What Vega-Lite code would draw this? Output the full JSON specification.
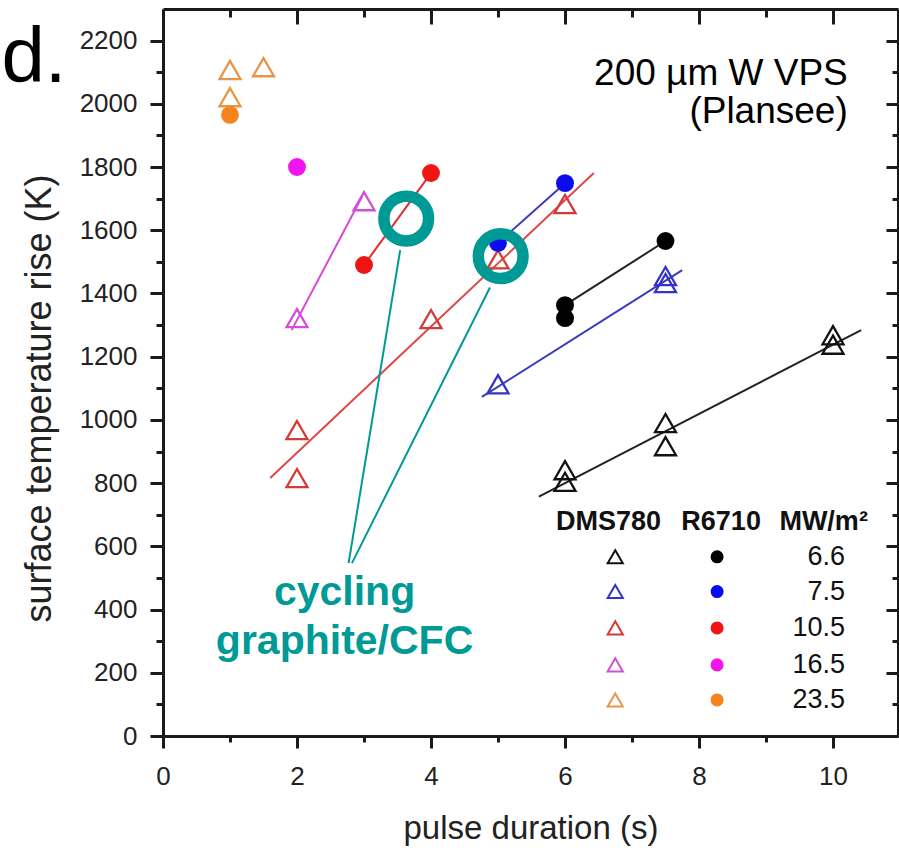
{
  "$schema": "https://vega.github.io/schema/vega-lite/v6.json",
  "width": 735,
  "height": 727,
  "autosize": {"type": "none"},
  "padding": {"left": 163, "top": 9, "right": 1, "bottom": 112},
  "background": "white",
  "config": {"view": {"stroke": null}, "font": "Liberation Sans"},
  "datasets": {
    "fit": [
      {"id": "m", "c": "LD16.5", "x": 1.92, "y": 1284},
      {"id": "m", "c": "LD16.5", "x": 2.97, "y": 1706},
      {"id": "rr", "c": "LR10.5", "x": 3, "y": 1490},
      {"id": "rr", "c": "LR10.5", "x": 4, "y": 1781},
      {"id": "rt", "c": "LD10.5", "x": 1.6, "y": 816},
      {"id": "rt", "c": "LD10.5", "x": 6.43, "y": 1781},
      {"id": "br", "c": "LR7.5", "x": 5, "y": 1560},
      {"id": "br", "c": "LR7.5", "x": 6, "y": 1749},
      {"id": "bt", "c": "LD7.5", "x": 4.76, "y": 1073},
      {"id": "bt", "c": "LD7.5", "x": 7.75, "y": 1474},
      {"id": "kr", "c": "LR6.6", "x": 6, "y": 1363},
      {"id": "kr", "c": "LR6.6", "x": 7.5, "y": 1566},
      {"id": "kt", "c": "LD6.6", "x": 5.61, "y": 757},
      {"id": "kt", "c": "LD6.6", "x": 10.42, "y": 1284}
    ],
    "tri": [
      {"c": "D23.5", "x": 1, "y": 2107},
      {"c": "D23.5", "x": 1, "y": 2021},
      {"c": "D23.5", "x": 1.5, "y": 2116},
      {"c": "D16.5", "x": 2, "y": 1322},
      {"c": "D16.5", "x": 3, "y": 1692},
      {"c": "D10.5", "x": 2, "y": 968},
      {"c": "D10.5", "x": 2, "y": 816},
      {"c": "D10.5", "x": 4, "y": 1319},
      {"c": "D10.5", "x": 5, "y": 1508},
      {"c": "D10.5", "x": 6, "y": 1683},
      {"c": "D7.5", "x": 5, "y": 1113},
      {"c": "D7.5", "x": 7.5, "y": 1455},
      {"c": "D7.5", "x": 7.5, "y": 1433},
      {"c": "D6.6", "x": 6, "y": 841},
      {"c": "D6.6", "x": 6, "y": 804},
      {"c": "D6.6", "x": 7.5, "y": 990},
      {"c": "D6.6", "x": 7.5, "y": 917},
      {"c": "D6.6", "x": 10, "y": 1268},
      {"c": "D6.6", "x": 10, "y": 1238}
    ],
    "dot": [
      {"c": "R23.5", "x": 1, "y": 1965},
      {"c": "R16.5", "x": 2, "y": 1800},
      {"c": "R10.5", "x": 3, "y": 1490},
      {"c": "R10.5", "x": 4, "y": 1781},
      {"c": "R7.5", "x": 5, "y": 1560},
      {"c": "R7.5", "x": 6, "y": 1749},
      {"c": "R6.6", "x": 6, "y": 1363},
      {"c": "R6.6", "x": 6, "y": 1322},
      {"c": "R6.6", "x": 7.5, "y": 1566}
    ],
    "ring": [
      {"x": 3.63, "y": 1637},
      {"x": 5.04, "y": 1518}
    ],
    "lead": [
      {"id": 1, "x": 2.77, "y": 547},
      {"id": 1, "x": 3.54, "y": 1537},
      {"id": 2, "x": 2.82, "y": 547},
      {"id": 2, "x": 4.88, "y": 1419}
    ],
    "teal": [
      {"t": "cycling", "x": 2.71, "y": 414},
      {"t": "graphite/CFC", "x": 2.71, "y": 259}
    ],
    "note": [
      {"t": "200 µm W VPS", "x": 10.22, "y": 2059},
      {"t": "(Plansee)", "x": 10.22, "y": 1939}
    ],
    "frag": [
      {"t": "nd.", "x": -1.44, "y": 2069}
    ],
    "leg": [
      {"v": "6.6", "d": "D6.6", "r": "R6.6", "y": 567},
      {"v": "7.5", "d": "D7.5", "r": "R7.5", "y": 457},
      {"v": "10.5", "d": "D10.5", "r": "R10.5", "y": 342},
      {"v": "16.5", "d": "D16.5", "r": "R16.5", "y": 225},
      {"v": "23.5", "d": "D23.5", "r": "R23.5", "y": 114}
    ],
    "head": [
      {"t": "DMS780", "x": 6.65, "y": 678},
      {"t": "R6710", "x": 8.33, "y": 678},
      {"t": "MW/m²", "x": 9.86, "y": 678}
    ]
  },
  "layer": [
    {
      "data": {"name": "fit"},
      "mark": {"type": "line", "strokeWidth": 2},
      "encoding": {
        "x": {
          "field": "x", "type": "quantitative",
          "scale": {"domain": [0, 10.97], "nice": false},
          "axis": {
            "orient": "bottom",
            "values": [0, 1, 2, 3, 4, 5, 6, 7, 8, 9, 10],
            "labelExpr": "datum.value % 2 === 0 ? datum.label : ''",
            "labelFlush": false,
            "tickSize": {"condition": {"test": "datum.value % 2 === 0", "value": 12}, "value": 6},
            "tickWidth": 3, "tickColor": "#1a1a1a",
            "domainWidth": 3, "domainColor": "#1a1a1a",
            "labelFontSize": 26, "labelColor": "#222222", "labelPadding": 15,
            "grid": false,
            "title": "pulse duration (s)", "titleFontSize": 33, "titleFontWeight": "normal",
            "titleColor": "#222222", "titleY": 102, "titleBaseline": "alphabetic"
          }
        },
        "y": {
          "field": "y", "type": "quantitative",
          "scale": {"domain": [0, 2300], "nice": false},
          "axis": {
            "orient": "left",
            "values": [0, 100, 200, 300, 400, 500, 600, 700, 800, 900, 1000, 1100, 1200, 1300, 1400, 1500, 1600, 1700, 1800, 1900, 2000, 2100, 2200],
            "labelExpr": "datum.value % 200 === 0 ? datum.label : ''",
            "labelFlush": false,
            "tickSize": {"condition": {"test": "datum.value % 200 === 0", "value": 13}, "value": 7},
            "tickWidth": 3, "tickColor": "#1a1a1a",
            "domainWidth": 3, "domainColor": "#1a1a1a",
            "labelFontSize": 26, "labelColor": "#222222", "labelPadding": 13,
            "format": "d",
            "grid": false,
            "title": "surface temperature rise (K)", "titleFontSize": 36, "titleFontWeight": "normal",
            "titleColor": "#222222", "titleAngle": 270, "titleX": -113, "titleY": 389,
            "titleBaseline": "alphabetic", "titleAlign": "center"
          }
        },
        "color": {
          "field": "c", "type": "nominal", "legend": null,
          "scale": {
            "domain": ["D6.6", "D7.5", "D10.5", "D16.5", "D23.5", "R6.6", "R7.5", "R10.5", "R16.5", "R23.5", "LD6.6", "LD7.5", "LD10.5", "LD16.5", "LR6.6", "LR7.5", "LR10.5"],
            "range": ["#111111", "#3434c4", "#d43a3a", "#d050d8", "#e8954a", "#000000", "#0b0bf0", "#f01414", "#f014f0", "#f5841a", "#222222", "#3a3abf", "#e04848", "#d64ad6", "#222222", "#3a3abf", "#e52a2a"]
          }
        },
        "detail": {"field": "id"}
      }
    },
    {
      "data": {"name": "tri"},
      "mark": {"type": "point", "shape": "triangle-up", "filled": false, "size": 440, "strokeWidth": 2.3, "opacity": 1},
      "encoding": {
        "x": {
          "field": "x", "type": "quantitative",
          "scale": {"domain": [0, 10.97], "nice": false},
          "axis": {
            "orient": "bottom",
            "offset": -727,
            "values": [0, 1, 2, 3, 4, 5, 6, 7, 8, 9, 10],
            "labels": false,
            "tickSize": {"condition": {"test": "datum.value % 2 === 0", "value": 15}, "value": 8},
            "tickWidth": 3, "tickColor": "#1a1a1a",
            "domainWidth": 3, "domainColor": "#1a1a1a",
            "grid": false, "title": null
          }
        },
        "y": {
          "field": "y", "type": "quantitative",
          "scale": {"domain": [0, 2300], "nice": false},
          "axis": {
            "orient": "left",
            "offset": -735,
            "values": [0, 100, 200, 300, 400, 500, 600, 700, 800, 900, 1000, 1100, 1200, 1300, 1400, 1500, 1600, 1700, 1800, 1900, 2000, 2100, 2200],
            "labels": false,
            "tickSize": {"condition": {"test": "datum.value % 200 === 0", "value": 12}, "value": 6},
            "tickWidth": 3, "tickColor": "#1a1a1a",
            "domainWidth": 3, "domainColor": "#1a1a1a",
            "grid": false, "title": null
          }
        },
        "color": {
          "field": "c", "type": "nominal", "legend": null,
          "scale": {
            "domain": ["D6.6", "D7.5", "D10.5", "D16.5", "D23.5", "R6.6", "R7.5", "R10.5", "R16.5", "R23.5", "LD6.6", "LD7.5", "LD10.5", "LD16.5", "LR6.6", "LR7.5", "LR10.5"],
            "range": ["#111111", "#3434c4", "#d43a3a", "#d050d8", "#e8954a", "#000000", "#0b0bf0", "#f01414", "#f014f0", "#f5841a", "#222222", "#3a3abf", "#e04848", "#d64ad6", "#222222", "#3a3abf", "#e52a2a"]
          }
        }
      }
    },
    {
      "data": {"name": "dot"},
      "mark": {"type": "circle", "size": 320, "opacity": 1},
      "encoding": {
        "x": {"field": "x", "type": "quantitative", "scale": {"domain": [0, 10.97], "nice": false}, "axis": null},
        "y": {"field": "y", "type": "quantitative", "scale": {"domain": [0, 2300], "nice": false}, "axis": null},
        "color": {
          "field": "c", "type": "nominal", "legend": null,
          "scale": {
            "domain": ["D6.6", "D7.5", "D10.5", "D16.5", "D23.5", "R6.6", "R7.5", "R10.5", "R16.5", "R23.5", "LD6.6", "LD7.5", "LD10.5", "LD16.5", "LR6.6", "LR7.5", "LR10.5"],
            "range": ["#111111", "#3434c4", "#d43a3a", "#d050d8", "#e8954a", "#000000", "#0b0bf0", "#f01414", "#f014f0", "#f5841a", "#222222", "#3a3abf", "#e04848", "#d64ad6", "#222222", "#3a3abf", "#e52a2a"]
          }
        }
      }
    },
    {
      "data": {"name": "ring"},
      "mark": {"type": "point", "shape": "circle", "filled": false, "size": 2000, "strokeWidth": 11.5, "color": "#009a96", "opacity": 1},
      "encoding": {
        "x": {"field": "x", "type": "quantitative", "scale": {"domain": [0, 10.97], "nice": false}, "axis": null},
        "y": {"field": "y", "type": "quantitative", "scale": {"domain": [0, 2300], "nice": false}, "axis": null}
      }
    },
    {
      "data": {"name": "lead"},
      "mark": {"type": "line", "strokeWidth": 2, "color": "#009a96"},
      "encoding": {
        "x": {"field": "x", "type": "quantitative", "scale": {"domain": [0, 10.97], "nice": false}, "axis": null},
        "y": {"field": "y", "type": "quantitative", "scale": {"domain": [0, 2300], "nice": false}, "axis": null},
        "detail": {"field": "id"}
      }
    },
    {
      "data": {"name": "teal"},
      "mark": {"type": "text", "align": "center", "baseline": "alphabetic", "fontSize": 41, "fontWeight": "bold", "color": "#009a96"},
      "encoding": {
        "x": {"field": "x", "type": "quantitative", "scale": {"domain": [0, 10.97], "nice": false}, "axis": null},
        "y": {"field": "y", "type": "quantitative", "scale": {"domain": [0, 2300], "nice": false}, "axis": null},
        "text": {"field": "t"}
      }
    },
    {
      "data": {"name": "note"},
      "mark": {"type": "text", "align": "right", "baseline": "alphabetic", "fontSize": 37, "color": "#000000"},
      "encoding": {
        "x": {"field": "x", "type": "quantitative", "scale": {"domain": [0, 10.97], "nice": false}, "axis": null},
        "y": {"field": "y", "type": "quantitative", "scale": {"domain": [0, 2300], "nice": false}, "axis": null},
        "text": {"field": "t"}
      }
    },
    {
      "data": {"name": "frag"},
      "mark": {"type": "text", "align": "right", "baseline": "alphabetic", "fontSize": 78, "color": "#000000"},
      "encoding": {
        "x": {"field": "x", "type": "quantitative", "scale": {"domain": [0, 10.97], "nice": false}, "axis": null},
        "y": {"field": "y", "type": "quantitative", "scale": {"domain": [0, 2300], "nice": false}, "axis": null},
        "text": {"field": "t"}
      }
    },
    {
      "data": {"name": "head"},
      "mark": {"type": "text", "align": "center", "baseline": "middle", "fontSize": 27, "fontWeight": "bold", "color": "#111111"},
      "encoding": {
        "x": {"field": "x", "type": "quantitative", "scale": {"domain": [0, 10.97], "nice": false}, "axis": null},
        "y": {"field": "y", "type": "quantitative", "scale": {"domain": [0, 2300], "nice": false}, "axis": null},
        "text": {"field": "t"}
      }
    },
    {
      "data": {"name": "leg"},
      "mark": {"type": "point", "shape": "triangle-up", "filled": false, "size": 230, "strokeWidth": 2, "opacity": 1},
      "encoding": {
        "x": {"datum": 6.75, "type": "quantitative", "scale": {"domain": [0, 10.97], "nice": false}, "axis": null},
        "y": {"field": "y", "type": "quantitative", "scale": {"domain": [0, 2300], "nice": false}, "axis": null},
        "color": {
          "field": "d", "type": "nominal", "legend": null,
          "scale": {
            "domain": ["D6.6", "D7.5", "D10.5", "D16.5", "D23.5", "R6.6", "R7.5", "R10.5", "R16.5", "R23.5", "LD6.6", "LD7.5", "LD10.5", "LD16.5", "LR6.6", "LR7.5", "LR10.5"],
            "range": ["#111111", "#3434c4", "#d43a3a", "#d050d8", "#e8954a", "#000000", "#0b0bf0", "#f01414", "#f014f0", "#f5841a", "#222222", "#3a3abf", "#e04848", "#d64ad6", "#222222", "#3a3abf", "#e52a2a"]
          }
        }
      }
    },
    {
      "data": {"name": "leg"},
      "mark": {"type": "circle", "size": 170, "opacity": 1},
      "encoding": {
        "x": {"datum": 8.27, "type": "quantitative", "scale": {"domain": [0, 10.97], "nice": false}, "axis": null},
        "y": {"field": "y", "type": "quantitative", "scale": {"domain": [0, 2300], "nice": false}, "axis": null},
        "color": {
          "field": "r", "type": "nominal", "legend": null,
          "scale": {
            "domain": ["D6.6", "D7.5", "D10.5", "D16.5", "D23.5", "R6.6", "R7.5", "R10.5", "R16.5", "R23.5", "LD6.6", "LD7.5", "LD10.5", "LD16.5", "LR6.6", "LR7.5", "LR10.5"],
            "range": ["#111111", "#3434c4", "#d43a3a", "#d050d8", "#e8954a", "#000000", "#0b0bf0", "#f01414", "#f014f0", "#f5841a", "#222222", "#3a3abf", "#e04848", "#d64ad6", "#222222", "#3a3abf", "#e52a2a"]
          }
        }
      }
    },
    {
      "data": {"name": "leg"},
      "mark": {"type": "text", "align": "right", "baseline": "middle", "fontSize": 27, "color": "#111111"},
      "encoding": {
        "x": {"datum": 10.18, "type": "quantitative", "scale": {"domain": [0, 10.97], "nice": false}, "axis": null},
        "y": {"field": "y", "type": "quantitative", "scale": {"domain": [0, 2300], "nice": false}, "axis": null},
        "text": {"field": "v"}
      }
    }
  ],
  "resolve": {"axis": {"x": "independent", "y": "independent"}}
}
